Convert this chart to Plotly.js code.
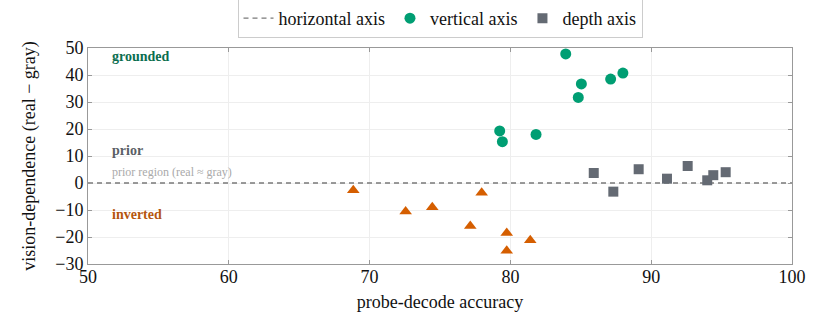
<!DOCTYPE html>
<html><head><meta charset="utf-8">
<script src="https://cdn.plot.ly/plotly-3.0.1.min.js"></script>
<style>html,body{margin:0;padding:0;background:#fff}#chart{width:816px;height:328px}</style>
</head><body><div id="chart"></div>
<script>
// vertical axis (green circles)
const vertX = [83.93, 85.04, 84.82, 87.12, 87.99, 79.24, 79.43, 81.82];
const vertY = [47.8, 36.7, 31.7, 38.5, 40.7, 19.3, 15.3, 18.0];
// depth axis (gray squares)
const depthX = [85.92, 87.31, 89.11, 91.12, 92.59, 93.98, 94.41, 95.29];
const depthY = [3.7, -3.2, 5.1, 1.6, 6.3, 1.0, 2.9, 4.0];
// horizontal axis (orange triangles)
const horizX = [68.84, 72.56, 74.45, 77.96, 77.15, 79.74, 79.74, 81.41];
const horizY = [-2.7, -10.6, -9.0, -3.6, -15.9, -18.5, -25.1, -21.2];
// reference line
const refX = [50, 100];
const refY = [0, 0];
const xTicks = [50, 60, 70, 80, 90, 100];
const yTicks = [-30, -20, -10, 0, 10, 20, 30, 40, 50];
const yTickText = ['\u221230', '\u221220', '\u221210', '0', '10', '20', '30', '40', '50'];

const serif = 'Liberation Serif, DejaVu Serif, serif';

const traces = [
  {x: refX, y: refY, mode: 'lines', name: 'horizontal axis',
   line: {color: '#7a7a7a', width: 1.3, dash: '5px,4px'}, hoverinfo: 'skip'},
  {x: vertX, y: vertY, mode: 'markers', name: 'vertical axis',
   marker: {symbol: 'circle', size: 11, color: '#009E73'}},
  {x: depthX, y: depthY, mode: 'markers', name: 'depth axis',
   marker: {symbol: 'square', size: 10, color: '#646a73'}},
  {x: horizX, y: horizY, mode: 'markers', name: 'horizontal', showlegend: false,
   marker: {symbol: 'triangle-up', size: 11, color: '#D55E00'}}
];

const axisCommon = {
  showline: true, mirror: 'ticks', linecolor: '#999', linewidth: 1,
  ticks: 'inside', ticklen: 4, tickcolor: '#999',
  showgrid: true, gridcolor: '#eeeeee', gridwidth: 1, zeroline: false,
  tickfont: {family: serif, size: 18, color: '#111'}
};

const layout = {
  width: 816, height: 328,
  margin: {l: 88, r: 24, t: 48, b: 64},
  paper_bgcolor: '#fff', plot_bgcolor: '#fff',
  font: {family: serif, color: '#111'},
  xaxis: Object.assign({}, axisCommon, {
    range: [50, 100], tickvals: xTicks, ticklabelstandoff: -4,
    title: {text: 'probe-decode accuracy', font: {family: serif, size: 18}, standoff: 9}
  }),
  yaxis: Object.assign({}, axisCommon, {
    range: [-30, 50], tickvals: yTicks, ticktext: yTickText,
    title: {text: 'vision-dependence (real \u2212 gray)', font: {family: serif, size: 18}, standoff: 14}
  }),
  showlegend: true,
  legend: {orientation: 'h', x: 0.5, xanchor: 'center', y: 1 - 38/328, yanchor: 'bottom',
    yref: 'container',
    bordercolor: '#cccccc', borderwidth: 1, bgcolor: '#fff',
    font: {family: serif, size: 18, color: '#111'},
    itemwidth: 30, tracegroupgap: 0},
  annotations: [
    {x: 51.56, y: 47, xref: 'x', yref: 'y', text: '<b>grounded</b>', showarrow: false,
     xanchor: 'left', yanchor: 'middle', font: {family: serif, size: 14, color: '#0b6e50'}},
    {x: 51.56, y: 11.9, xref: 'x', yref: 'y', text: '<b>prior</b>', showarrow: false,
     xanchor: 'left', yanchor: 'middle', font: {family: serif, size: 14, color: '#5a5f66'}},
    {x: 51.56, y: 0.6, xref: 'x', yref: 'y', text: 'prior region (real \u2248 gray)', showarrow: false,
     xanchor: 'left', yanchor: 'bottom', font: {family: serif, size: 12, color: '#aaaaaa'}},
    {x: 51.56, y: -11.5, xref: 'x', yref: 'y', text: '<b>inverted</b>', showarrow: false,
     xanchor: 'left', yanchor: 'middle', font: {family: serif, size: 14, color: '#b5560f'}}
  ]
};

Plotly.newPlot('chart', traces, layout, {displayModeBar: false, staticPlot: true});
</script>
</body></html>
